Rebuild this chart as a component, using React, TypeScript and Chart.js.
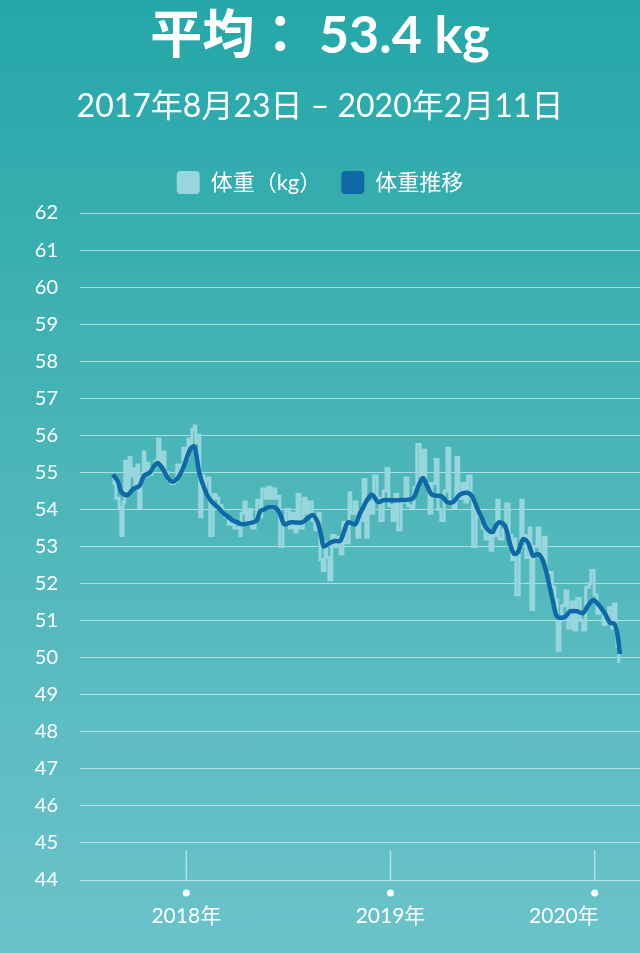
import { useEffect, useRef } from 'react'
import { Chart, registerables, layouts, Plugin } from 'chart.js'

Chart.register(...registerables)

// day offsets from 2017-08-23
const rawDays = [
  0, 2, 5, 11, 14, 18, 21, 25, 29, 32, 36, 39, 43, 46, 50, 54, 57, 61, 64, 70, 75, 80, 84, 89, 93, 98, 104,
  109, 114, 120, 125, 130, 134, 138, 141, 145, 148, 152, 155, 159, 163, 166, 170, 173, 179, 184, 189, 195,
  200, 206, 211, 216, 222, 227, 229, 234, 238, 243, 248, 254, 257, 263, 266, 272, 277, 282, 286, 291, 295,
  298, 304, 309, 315, 320, 325, 329, 334, 340, 345, 350, 356, 361, 366, 370, 374, 379, 382, 386, 391, 397,
  400, 406, 411, 416, 422, 425, 431, 436, 441, 447, 452, 456, 461, 466, 472, 477, 483, 488, 493, 499, 504,
  509, 515, 522, 527, 533, 538, 543, 549, 554, 559, 565, 570, 576, 581, 586, 592, 597, 602, 608, 613, 618,
  624, 629, 634, 640, 643, 649, 654, 660, 665, 670, 674, 679, 686, 690, 697, 702, 708, 713, 717, 720, 726,
  729, 733, 738, 744, 747, 752, 758, 763, 769, 774, 779, 785, 790, 794, 799, 802, 808, 813, 819, 824, 829,
  835, 840, 845, 851, 854, 860, 865, 870, 876, 881, 886, 892, 895, 899, 901, 904,
]
const rawKg = [
  54.95, 54.7, 54.3, 54.05, 53.3, 54.2, 55.3, 54.5, 55.4, 54.9, 55.1, 54.6, 55.2, 54.05, 54.9, 55.55, 54.9,
  55.25, 54.95, 55.1, 55.3, 55.9, 55.2, 55.55, 55.0, 54.8, 54.7, 54.75, 55.2, 55.0, 55.65, 55.4, 55.9, 55.7,
  56.15, 56.25, 55.8, 56.0, 53.8, 54.9, 54.6, 54.8, 54.85, 53.3, 54.4, 54.3, 54.1, 53.9, 53.8, 53.6, 53.65,
  53.5, 53.5, 53.3, 53.9, 54.2, 53.6, 54.0, 53.5, 53.7, 54.25, 53.8, 54.55, 54.3, 54.6, 54.3, 54.55, 54.3,
  54.35, 53.0, 53.6, 54.0, 53.5, 53.9, 53.4, 54.4, 53.5, 54.3, 53.9, 54.2, 53.7, 53.45, 53.9, 52.65, 52.35,
  53.1, 52.7, 52.1, 53.3, 53.0, 53.25, 52.8, 53.65, 53.1, 54.45, 53.9, 54.2, 53.25, 53.7, 54.8, 53.25, 54.2,
  53.9, 54.9, 54.3, 53.7, 54.5, 55.1, 54.1, 53.7, 54.4, 53.45, 54.2, 54.85, 54.1, 54.05, 54.6, 55.75, 54.9,
  55.6, 54.7, 53.9, 54.7, 55.35, 54.0, 53.7, 54.5, 55.65, 54.2, 54.05, 55.4, 54.3, 54.7, 54.2, 54.9, 54.3,
  53.0, 54.0, 53.8, 53.5, 53.2, 53.4, 52.9, 53.3, 54.25, 53.2, 53.45, 54.15, 53.3, 52.65, 53.2, 51.7, 52.9,
  54.25, 53.3, 52.7, 53.5, 51.3, 53.0, 53.5, 52.7, 53.25, 52.3, 52.3, 51.9, 51.55, 50.2, 51.0, 51.4, 51.8,
  50.8, 51.5, 50.75, 51.6, 51.0, 50.75, 51.9, 52.0, 52.35, 51.7, 51.2, 51.3, 50.9, 51.1, 51.35, 50.8, 51.45,
  50.85, 50.3, 49.85,
]

const trendDays = [
  0, 9, 14, 21, 27, 36, 43, 48, 55, 66, 75, 80, 89, 98, 107, 116, 125, 132, 139, 145, 148, 154, 159, 168,
  177, 188, 197, 206, 214, 223, 231, 250, 257, 263, 270, 277, 290, 298, 306, 316, 325, 338, 347, 357, 366,
  372, 377, 388, 397, 406, 413, 420, 433, 440, 447, 454, 463, 474, 483, 509, 536, 545, 554, 561, 570, 588,
  597, 608, 620, 633, 642, 652, 660, 665, 674, 679, 686, 692, 701, 710, 717, 724, 733, 742, 751, 760, 769,
  777, 786, 794, 808, 817, 829, 840, 849, 858, 867, 879, 888, 897, 903, 906,
]
const trendKg = [
  54.95, 54.75, 54.5, 54.4, 54.4, 54.55, 54.6, 54.65, 54.9, 55.0, 55.2, 55.25, 55.1, 54.85, 54.75, 54.85,
  55.1, 55.4, 55.65, 55.7, 55.55, 55.0, 54.75, 54.4, 54.2, 54.05, 53.9, 53.8, 53.7, 53.65, 53.6, 53.65,
  53.7, 53.95, 54.0, 54.05, 54.05, 53.9, 53.6, 53.65, 53.65, 53.65, 53.75, 53.85, 53.65, 53.3, 53.0, 53.1,
  53.15, 53.15, 53.4, 53.65, 53.6, 53.85, 54.05, 54.25, 54.4, 54.2, 54.25, 54.25, 54.3, 54.6, 54.85, 54.65,
  54.4, 54.35, 54.2, 54.2, 54.4, 54.45, 54.35, 54.0, 53.75, 53.55, 53.4, 53.4, 53.6, 53.65, 53.55, 53.05,
  52.8, 52.85, 53.2, 53.1, 52.75, 52.8, 52.6, 52.15, 51.55, 51.1, 51.1, 51.25, 51.25, 51.2, 51.4, 51.55,
  51.45, 51.2, 50.95, 50.9, 50.5, 50.1,
]

const yearTicks = [131, 496, 861]
const yearLabels = ['2018年', '2019年', '2020年']

const FONT = "Lato, 'Noto Sans CJK JP', sans-serif"

// empty gap between the legend and the plot
const legendGap: Plugin<'line'> = {
  id: 'legendGap',
  beforeInit(chart) {
    const box: any = {
      position: 'top',
      weight: 100,
      fullSize: true,
      options: {},
      top: 0,
      bottom: 0,
      left: 0,
      right: 0,
      width: 0,
      height: 0,
      isHorizontal: () => true,
      update(maxWidth: number) {
        box.width = maxWidth
        box.height = 9
      },
      draw() {},
    }
    layouts.addBox(chart, box)
  },
}

const yearAxis: Plugin<'line'> = {
  id: 'yearAxis',
  afterDraw(chart) {
    const { ctx, chartArea, scales } = chart
    const x = scales.x
    const lastX = x.getPixelForValue(rawDays[rawDays.length - 1])
    ctx.save()
    ctx.font = `21px ${FONT}`
    ctx.textAlign = 'center'
    ctx.textBaseline = 'middle'
    yearTicks.forEach((d, i) => {
      const px = x.getPixelForValue(d)
      ctx.strokeStyle = 'rgba(255,255,255,0.5)'
      ctx.lineWidth = 1.5
      ctx.beginPath()
      ctx.moveTo(px, chartArea.bottom - 30)
      ctx.lineTo(px, chartArea.bottom)
      ctx.stroke()
      ctx.fillStyle = '#fff'
      ctx.beginPath()
      ctx.arc(px, chartArea.bottom + 13, 3.5, 0, Math.PI * 2)
      ctx.fill()
      const w = ctx.measureText(yearLabels[i]).width
      const lx = Math.min(px, lastX - 20 - w / 2)
      ctx.fillText(yearLabels[i], lx, chartArea.bottom + 36)
    })
    ctx.restore()
  },
}

export default function App() {
  const canvasRef = useRef<HTMLCanvasElement>(null)

  useEffect(() => {
    document.body.style.margin = '0'
    if (!canvasRef.current) return
    Chart.defaults.font.family = FONT

    const chart = new Chart(canvasRef.current, {
      type: 'line',
      data: {
        datasets: [
          {
            label: '体重（kg）',
            data: rawDays.map((d, i) => ({ x: d, y: rawKg[i] })),
            borderColor: '#98d6dd',
            backgroundColor: '#98d6dd',
            borderWidth: 3,
            stepped: true,
            pointRadius: 0,
            order: 2,
          },
          {
            label: '体重推移',
            data: trendDays.map((d, i) => ({ x: d, y: trendKg[i] })),
            borderColor: '#0f69a6',
            backgroundColor: '#0f69a6',
            borderWidth: 4.5,
            tension: 0.3,
            pointRadius: 0,
            order: 1,
          },
        ],
      },
      options: {
        responsive: false,
        animation: false,
        layout: { padding: { bottom: 73, right: 0, left: 0 } },
        scales: {
          x: {
            type: 'linear',
            min: -59,
            max: 942,
            display: false,
          },
          y: {
            min: 44,
            max: 62,
            afterFit: (s) => {
              s.width = 80
              s.paddingTop = 213
            },
            ticks: {
              stepSize: 1,
              color: '#fff',
              padding: 22,
              font: { size: 20 },
            },
            grid: { color: 'rgba(255,255,255,0.55)', drawTicks: false, lineWidth: 1 },
            border: { display: false },
          },
        },
        plugins: {
          title: {
            display: true,
            text: '平均： 53.4 kg',
            color: '#fff',
            font: { size: 52, weight: 'bold' },
            padding: { top: 0, bottom: 20 },
          },
          subtitle: {
            display: true,
            text: '2017年8月23日 – 2020年2月11日',
            color: '#fff',
            font: { size: 32 },
            padding: { bottom: 25 },
          },
          legend: {
            labels: {
              color: '#fff',
              font: { size: 22 },
              boxWidth: 23,
              boxHeight: 23,
              useBorderRadius: true,
              borderRadius: 4,
              padding: 20,
              generateLabels: (c) =>
                c.data.datasets.map((ds, i) => ({
                  text: ds.label as string,
                  fillStyle: ds.borderColor as string,
                  strokeStyle: ds.borderColor as string,
                  lineWidth: 0,
                  hidden: false,
                  datasetIndex: i,
                  fontColor: '#fff',
                  borderRadius: 4,
                })),
            },
          },
          tooltip: { enabled: false },
        },
      },
      plugins: [legendGap, yearAxis],
    })

    return () => chart.destroy()
  }, [])

  return (
    <div
      style={{
        width: 640,
        height: 953,
        background: 'linear-gradient(180deg, #25a7a8 0%, #4cb6b9 50%, #6bc3ca 100%)',
      }}
    >
      <canvas ref={canvasRef} width={640} height={953} style={{ display: 'block' }} />
    </div>
  )
}
